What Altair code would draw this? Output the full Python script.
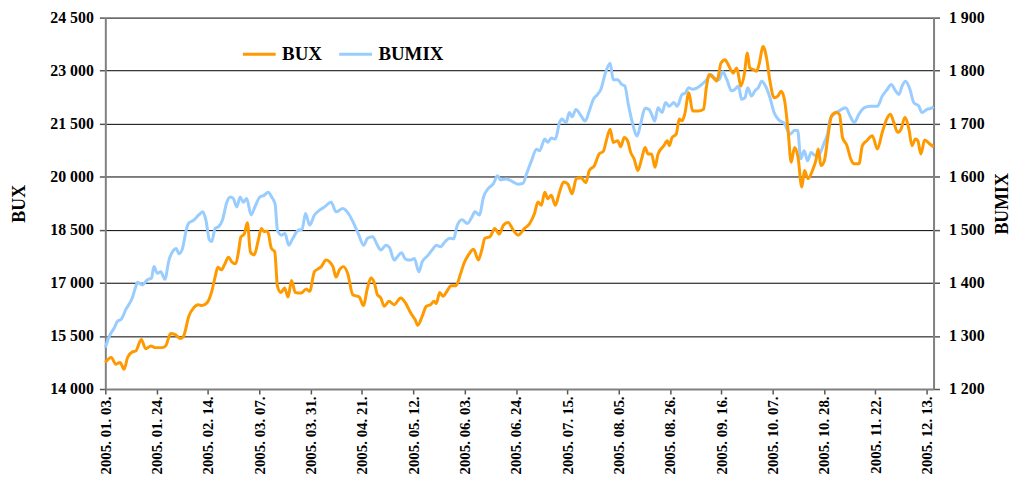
import altair as alt
import pandas as pd

# ---- data (trading-day index from 2005.01.03, value) ----
tick_labels = ["2005. 01. 03.", "2005. 01. 24.", "2005. 02. 14.", "2005. 03. 07.",
               "2005. 03. 31.", "2005. 04. 21.", "2005. 05. 12.", "2005. 06. 03.",
               "2005. 06. 24.", "2005. 07. 15.", "2005. 08. 05.", "2005. 08. 26.",
               "2005. 09. 16.", "2005. 10. 07.", "2005. 10. 28.", "2005. 11. 22.",
               "2005. 12. 13."]
tick_days = [i * 15 for i in range(len(tick_labels))]

bux_day = [0, 1.7, 3.1, 4.3, 5.5, 6.5, 7.9, 8.9, 10.5, 11.8,
           13.3, 14.7, 16.6, 17.6, 19.1, 20.3, 22.0, 22.9, 24.4, 25.8,
           27.1, 28.2, 29.7, 31.1, 32.1, 32.9, 33.9, 34.8, 36.0, 36.9,
           38.1, 38.9, 39.6, 40.6, 41.5, 42.4, 43.5, 44.7, 45.6, 46.4,
           47.4, 48.5, 49.5, 50.3, 51.3, 52.4, 53.4, 54.4, 55.5, 57.3,
           58.7, 59.7, 61.1, 62.1, 63.1, 64.5, 66.5, 67.4, 68.4, 69.6,
           70.8, 72.3, 74.2, 75.4, 76.6, 77.6, 78.6, 79.5, 80.5, 81.5,
           82.9, 84.4, 86.3, 87.7, 89.2, 90.5, 91.3, 92.6, 93.8, 95.0,
           96.1, 96.7, 97.7, 98.7, 99.8, 101.0, 102.5, 103.7, 104.8, 106.1,
           107.6, 109.0, 110.0, 110.9, 112.4, 113.8, 115.1, 116.3, 117.7, 119.2,
           120.6, 122.5, 124.0, 125.4, 126.4, 127.4, 128.4, 129.3, 130.3, 131.5,
           132.7, 133.9, 135.1, 136.4, 137.6, 139.0, 140.4, 141.4, 142.9, 144.3,
           145.5, 146.5, 147.5, 148.4, 149.7, 150.6, 151.6, 152.6, 153.5, 154.5,
           155.6, 156.7, 157.7, 158.6, 159.6, 160.6, 161.5, 163.2, 164.2, 164.8,
           165.6, 166.8, 167.7, 168.5, 169.3, 170.5, 171.6, 173.2, 174.8, 175.6,
           176.5, 177.7, 178.7, 179.9, 181.1, 182.0, 183.5, 184.5, 185.7, 186.7,
           187.6, 188.3, 189.4, 190.3, 191.0, 192.2, 193.2, 194.2, 195.4, 196.5,
           197.5, 198.5, 199.5, 200.4, 201.4, 202.4, 203.5, 204.3, 205.3, 206.6,
           207.6, 208.3, 209.1, 210.1, 211.1, 212.2, 213.5, 214.5, 215.4, 216.7,
           217.8, 218.8, 220.2, 221.2, 222.5, 224.1, 225.6, 227.0, 228.3, 229.4,
           230.4, 231.5, 232.5, 233.6, 234.8, 235.7, 236.7, 237.4, 238.3, 239.4,
           240.9, 242.0]
bux_value = [14750, 14890, 14700, 14750, 14560, 14890, 15050, 15075, 15400, 15140,
             15215, 15170, 15170, 15215, 15570, 15545, 15425, 15500, 16060, 16295,
             16385, 16360, 16435, 16760, 17180, 17445, 17370, 17510, 17725, 17600,
             17540, 17875, 18295, 18380, 18700, 17870, 17790, 18210, 18540, 18445,
             18465, 17980, 17880, 16900, 16730, 16855, 16600, 17070, 16730, 16715,
             16830, 16760, 17320, 17390, 17460, 17650, 17460, 17165, 17370, 17460,
             17275, 16665, 16600, 16360, 16855, 17135, 17000, 16665, 16575, 16340,
             16480, 16385, 16575, 16435, 16155, 15965, 15805, 16060, 16340, 16385,
             16480, 16415, 16730, 16620, 16760, 16920, 16920, 17230, 17555, 17790,
             17950, 17650, 17930, 18260, 18305, 18540, 18380, 18630, 18710, 18490,
             18350, 18540, 18680, 18960, 19285, 19195, 19565, 19380, 19475, 19195,
             19565, 19850, 19800, 19520, 19945, 19970, 19830, 20175, 20315, 20645,
             20720, 21065, 21345, 20970, 21020, 20850, 21110, 21020, 20690, 20505,
             20175, 20505, 20830, 20645, 20645, 20270, 20645, 20880, 21020, 20880,
             21110, 21205, 21630, 21580, 21770, 22375, 21860, 21860, 21910, 22515,
             22890, 22795, 22705, 23215, 23310, 23170, 22935, 23075, 22565, 22890,
             23500, 23075, 23030, 22985, 23170, 23685, 23360, 22705, 22235, 22280,
             22420, 22140, 21300, 20410, 20830, 20550, 19710, 20175, 19945, 20175,
             20455, 20785, 20315, 20455, 21110, 21720, 21815, 21765, 21110, 20880,
             20505, 20365, 20365, 20880, 21020, 21160, 20785, 21250, 21630, 21770,
             21530, 21255, 21345, 21675, 21345, 20880, 21065, 21020, 20645, 21040,
             20925, 20850]

bumix_day = [0, 1.2, 2.6, 3.6, 4.6, 6.0, 7.9, 8.9, 9.4, 10.8,
             12.3, 13.5, 14.2, 15.2, 16.2, 17.4, 18.6, 20.0, 20.7, 21.5,
             22.4, 23.9, 24.4, 25.8, 27.3, 28.5, 29.4, 30.4, 31.1, 32.1,
             33.1, 34.2, 35.5, 36.5, 37.4, 38.4, 39.4, 40.3, 41.3, 42.6,
             43.7, 45.2, 46.4, 47.6, 48.6, 49.6, 50.3, 51.5, 52.5, 53.6,
             54.8, 56.3, 57.5, 58.5, 59.7, 61.1, 62.6, 64.0, 66.0, 67.4,
             69.4, 71.3, 72.8, 73.9, 75.5, 76.6, 78.1, 79.5, 80.5, 82.0,
             83.0, 84.4, 85.2, 86.5, 87.7, 89.2, 90.3, 91.6, 92.6, 94.0,
             95.5, 96.8, 97.9, 99.3, 100.6, 101.8, 102.7, 104.2, 105.8, 107.1,
             108.0, 109.3, 110.5, 111.9, 113.4, 114.6, 115.5, 117.2, 119.2, 120.6,
             122.1, 123.1, 124.5, 126.0, 126.9, 128.4, 129.3, 130.3, 131.5, 132.7,
             133.4, 134.6, 135.6, 136.4, 137.5, 139.0, 140.2, 141.4, 142.6, 143.8,
             144.8, 146.0, 147.5, 148.4, 149.7, 150.9, 151.8, 152.8, 154.0, 155.4,
             156.4, 157.7, 158.8, 159.8, 160.5, 161.5, 162.7, 163.7, 164.8, 166.1,
             167.1, 168.5, 169.5, 170.4, 171.6, 172.8, 174.3, 175.7, 177.0, 178.0,
             179.3, 180.4, 181.6, 183.0, 184.0, 185.0, 185.9, 186.9, 187.7, 188.8,
             189.8, 190.8, 191.8, 192.9, 194.2, 195.4, 196.8, 198.5, 200.0, 201.4,
             202.3, 203.2, 204.2, 205.2, 206.2, 207.4, 208.6, 210.1, 211.0, 211.8,
             212.9, 214.4, 216.3, 217.8, 218.8, 220.2, 221.7, 223.6, 225.6, 227.0,
             228.5, 229.6, 230.9, 231.9, 232.8, 233.8, 235.1, 236.2, 237.7, 238.6,
             240.1, 241.6, 242.0]
bumix_value = [1278, 1300, 1315, 1328, 1331, 1350, 1372, 1393, 1401, 1396,
               1406, 1409, 1431, 1418, 1421, 1407, 1443, 1462, 1465, 1455,
               1462, 1506, 1513, 1518, 1528, 1534, 1518, 1481, 1478, 1503,
               1506, 1518, 1552, 1562, 1559, 1543, 1562, 1552, 1559, 1528,
               1543, 1562, 1565, 1571, 1562, 1549, 1499, 1490, 1493, 1471,
               1484, 1499, 1501, 1531, 1509, 1528, 1537, 1543, 1552, 1534,
               1540, 1528, 1509, 1493, 1471, 1484, 1487, 1471, 1462, 1471,
               1467, 1443, 1448, 1457, 1445, 1443, 1446, 1421, 1440, 1450,
               1462, 1471, 1468, 1478, 1484, 1483, 1506, 1519, 1512, 1524,
               1534, 1528, 1562, 1578, 1587, 1602, 1594, 1596, 1590, 1586,
               1588, 1606, 1630, 1652, 1649, 1671, 1665, 1673, 1671, 1702,
               1709, 1702, 1721, 1713, 1727, 1715, 1705, 1724, 1746, 1755,
               1765, 1793, 1814, 1783, 1783, 1774, 1771, 1737, 1702, 1677,
               1699, 1729, 1727, 1715, 1705, 1730, 1721, 1740, 1733, 1740,
               1733, 1755, 1758, 1768, 1765, 1767, 1774, 1783, 1793, 1786,
               1783, 1798, 1783, 1762, 1765, 1771, 1746, 1749, 1768, 1752,
               1762, 1768, 1780, 1771, 1749, 1721, 1707, 1700, 1680, 1687,
               1687, 1634, 1649, 1630, 1646, 1640, 1643, 1665, 1680, 1709,
               1718, 1724, 1730, 1712, 1702, 1718, 1730, 1733, 1733, 1752,
               1765, 1774, 1762, 1755, 1771, 1780, 1765, 1740, 1733, 1721,
               1727, 1730, 1732]

series_names = ["BUX", "BUMIX"]
series_colors = ["#FF9900", "#99CCFF"]

bux_df = pd.DataFrame({"day": bux_day, "value": bux_value, "series": "BUX"})
bumix_df = pd.DataFrame({"day": bumix_day, "value": bumix_value, "series": "BUMIX"})

FONT = "Liberation Serif"
label_js = "[" + ",".join("'%s'" % s for s in tick_labels) + "][round(datum.value / 15)]"
space_fmt = "replace(format(datum.value, ','), ',', ' ')"

x_enc = alt.X("day:Q",
              scale=alt.Scale(domain=[0, 242], nice=False, zero=False),
              axis=alt.Axis(values=tick_days, labelExpr=label_js, labelAngle=-90,
                            labelFontSize=15, labelPadding=2, tickSize=5,
                            grid=False, title=None, domainColor="#808080",
                            domainWidth=2, tickColor="#555555", tickWidth=1.5,
                            labelFlush=False, labelOverlap=False))

color_enc = alt.Color("series:N",
                      scale=alt.Scale(domain=series_names, range=series_colors),
                      legend=alt.Legend(title=None, orient="none", legendX=137, legendY=19,
                                        direction="horizontal", symbolType="stroke",
                                        symbolSize=1089, symbolStrokeWidth=3,
                                        labelFontSize=19, labelFont=FONT,
                                        labelFontWeight="bold", labelOffset=5,
                                        columnPadding=10, padding=0,
                                        labelColor="#000000"))

bumix_line = alt.Chart(bumix_df).mark_line(strokeWidth=3, interpolate="monotone").encode(
    x=x_enc,
    y=alt.Y("value:Q",
            scale=alt.Scale(domain=[1200, 1900], nice=False, zero=False),
            axis=alt.Axis(orient="right", values=list(range(1200, 1901, 100)),
                          labelExpr=space_fmt, labelFontSize=16, labelPadding=9,
                          tickSize=6, grid=False, title="BUMIX", titleAngle=-90,
                          titleFontSize=18, titleX=74, titleY=187,
                          titleBaseline="alphabetic", titleAlign="center",
                          domainColor="#808080", domainWidth=2,
                          tickColor="#555555", tickWidth=1.5)),
    color=color_enc,
)

bux_line = alt.Chart(bux_df).mark_line(strokeWidth=3, interpolate="monotone").encode(
    x=x_enc,
    y=alt.Y("value:Q",
            scale=alt.Scale(domain=[14000, 24500], nice=False, zero=False),
            axis=alt.Axis(orient="left", values=list(range(14000, 24501, 1500)),
                          labelExpr=space_fmt, labelFontSize=16, labelPadding=6,
                          tickSize=6, grid=True, gridColor="#000000", gridWidth=1,
                          title="BUX", titleAngle=-90, titleFontSize=18,
                          titleX=-81, titleY=187, titleBaseline="alphabetic",
                          titleAlign="center",
                          domainColor="#808080", domainWidth=2,
                          tickColor="#555555", tickWidth=1.5)),
    color=color_enc,
)

chart = alt.layer(bumix_line, bux_line).resolve_scale(y="independent").properties(
    width=834, height=374,
    autosize=alt.AutoSizeParams(type="none"),
    padding={"left": 98, "top": 8, "right": 80, "bottom": 95},
    background="#ffffff",
).configure_view(strokeWidth=0).configure_axis(
    labelFont=FONT, labelFontWeight="bold", labelColor="#000000",
    titleFont=FONT, titleFontWeight="bold", titleColor="#000000",
)

chart.save("out.html", embed_options={"renderer": "svg", "actions": False})
